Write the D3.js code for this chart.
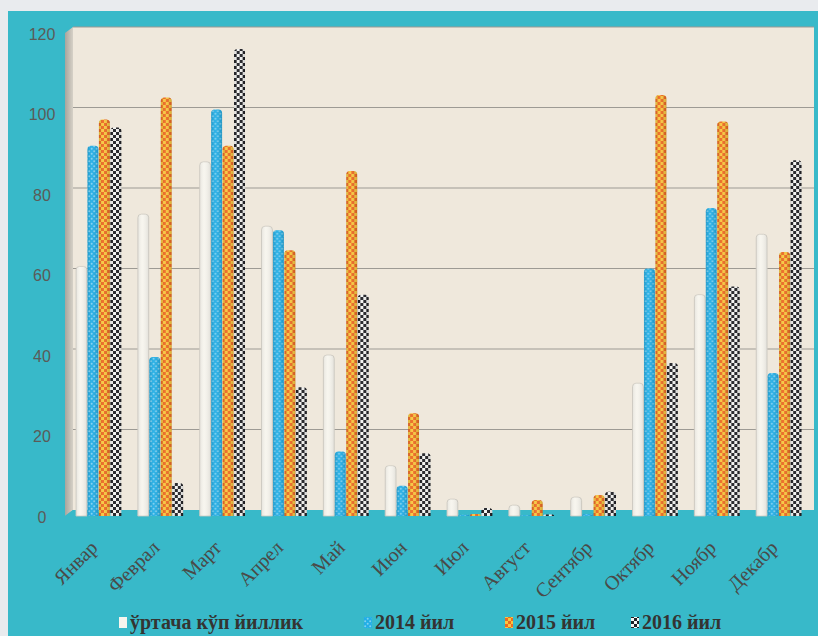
<!DOCTYPE html>
<html>
<head>
<meta charset="utf-8">
<script src="https://cdn.jsdelivr.net/npm/d3@7"></script>
<style>
  html, body { margin: 0; padding: 0; background: #eceef0; }
  svg { display: block; }
</style>
</head>
<body>
<svg id="chart" width="818" height="636"></svg>
<script>
// Monthly values, four series
const months = ["Январ", "Феврал", "Март", "Апрел", "Май", "Июн", "Июл", "Август", "Сентябр", "Октябр", "Ноябр", "Декабр"];
const seriesNames = ["ўртача кўп йиллик", "2014 йил", "2015 йил", "2016 йил"];
const avgMultiYear = [62, 75, 88, 72, 40, 12.5, 4.2, 2.7, 4.7, 33, 55, 70];
const y2014 = [92, 39.5, 101, 71, 16, 7.5, 0.3, 0.2, 0.5, 61.5, 76.5, 35.5];
const y2015 = [98.5, 104, 92, 66, 85.7, 25.5, 0.5, 4, 5.2, 104.6, 98, 65.6];
const y2016 = [96.5, 8.2, 116, 32, 55, 15.6, 2, 0.4, 6, 38, 57, 88.4];
const yTicks = [0, 20, 40, 60, 80, 100, 120];

const series = [avgMultiYear, y2014, y2015, y2016];

const svg = d3.select("#chart");
const W = 818, H = 636;

// ---- patterns for the bar fills ----
const defs = svg.append("defs");

const pWhite = defs.append("pattern").attr("id", "pat0").attr("patternUnits", "userSpaceOnUse")
  .attr("width", 4).attr("height", 4);
pWhite.append("rect").attr("width", 4).attr("height", 4).attr("fill", "#f7f5ee");

const pBlue = defs.append("pattern").attr("id", "pat1").attr("patternUnits", "userSpaceOnUse")
  .attr("width", 5).attr("height", 5);
pBlue.append("rect").attr("width", 5).attr("height", 5).attr("fill", "#22aee6");
pBlue.append("circle").attr("cx", 1.2).attr("cy", 1.2).attr("r", 1).attr("fill", "#7fd0f0");
pBlue.append("circle").attr("cx", 3.7).attr("cy", 3.7).attr("r", 1).attr("fill", "#7fd0f0");

const pOrange = defs.append("pattern").attr("id", "pat2").attr("patternUnits", "userSpaceOnUse")
  .attr("width", 6).attr("height", 6);
pOrange.append("rect").attr("width", 6).attr("height", 6).attr("fill", "#ee6a22");
pOrange.append("rect").attr("x", 0).attr("y", 0).attr("width", 3).attr("height", 3).attr("fill", "#f9c83e");
pOrange.append("rect").attr("x", 3).attr("y", 3).attr("width", 3).attr("height", 3).attr("fill", "#f9c83e");

const pBlack = defs.append("pattern").attr("id", "pat3").attr("patternUnits", "userSpaceOnUse")
  .attr("width", 6).attr("height", 6);
pBlack.append("rect").attr("width", 6).attr("height", 6).attr("fill", "#f6f6f4");
pBlack.append("rect").attr("x", 0).attr("y", 0).attr("width", 3).attr("height", 3).attr("fill", "#1f1f24");
pBlack.append("rect").attr("x", 3).attr("y", 3).attr("width", 3).attr("height", 3).attr("fill", "#1f1f24");

// cylinder shading across each bar
const shade = defs.append("linearGradient").attr("id", "cyl").attr("x1", "0").attr("x2", "1").attr("y1", "0").attr("y2", "0");
shade.append("stop").attr("offset", "0").attr("stop-color", "#000").attr("stop-opacity", 0.18);
shade.append("stop").attr("offset", "0.4").attr("stop-color", "#fff").attr("stop-opacity", 0.08);
shade.append("stop").attr("offset", "1").attr("stop-color", "#000").attr("stop-opacity", 0.22);

const wallGrad = defs.append("linearGradient").attr("id", "wall").attr("x1", "0").attr("x2", "1");
wallGrad.append("stop").attr("offset", "0").attr("stop-color", "#a9a59d");
wallGrad.append("stop").attr("offset", "1").attr("stop-color", "#d6d1c7");

// ---- page background and teal frame ----
svg.append("rect").attr("width", W).attr("height", H).attr("fill", "#e9ebee");
svg.append("rect").attr("x", 8).attr("y", 11).attr("width", W - 8).attr("height", H - 11).attr("fill", "#38b9c9");

// ---- scales ----
const x0 = d3.scaleBand().domain(months).range([68, 810]).padding(0);
const x1 = d3.scaleBand().domain(d3.range(4)).range([8, x0.bandwidth() - 8]).padding(0);
const y = d3.scaleLinear().domain([0, 120]).range([516, 33]);

// back wall offset of the 3D plot box
const depthX = 8, depthY = 6;

// back wall
svg.append("rect")
  .attr("x", 65 + depthX).attr("y", y(120) - depthY)
  .attr("width", 814 - (65 + depthX)).attr("height", y(0) - depthY - (y(120) - depthY))
  .attr("fill", "#efe8dc");

// left side wall
svg.append("path")
  .attr("d", `M65,${y(120)} L${65 + depthX},${y(120) - depthY} L${65 + depthX},${y(0) - depthY} L65,${y(0)} Z`)
  .attr("fill", "url(#wall)");

// gridlines on the back wall
svg.append("g").selectAll("line").data(yTicks.filter(d => d > 0)).join("line")
  .attr("x1", 65 + depthX).attr("x2", 814)
  .attr("y1", d => y(d) - depthY).attr("y2", d => y(d) - depthY)
  .attr("stroke", "#9d9a94").attr("stroke-width", 1.2);

// floor (teal)
svg.append("path")
  .attr("d", `M65,${y(0)} L${65 + depthX},${y(0) - depthY} L814,${y(0) - depthY} L814,${y(0)} Z`)
  .attr("fill", "#38b9c9");

// ---- y axis labels ----
const yAxis = d3.axisLeft(y).tickValues(yTicks).tickSize(0).tickPadding(0);
const gy = svg.append("g").attr("transform", "translate(42,0)").call(yAxis);
gy.select(".domain").remove();
gy.selectAll("text")
  .attr("text-anchor", "middle")
  .attr("x", 0)
  .attr("dy", "0.4em")
  .attr("fill", "#5b5b58")
  .style("font-family", "'Liberation Sans', Arial, sans-serif")
  .style("font-size", "16px");

// ---- bars (rounded cylinder caps) ----
function barPath(x, w, top, bottom) {
  const r = Math.min(w / 2, Math.max(0, (bottom - top)), 3.5);
  return `M${x},${bottom} L${x},${top + r} Q${x},${top} ${x + r},${top} L${x + w - r},${top} Q${x + w},${top} ${x + w},${top + r} L${x + w},${bottom} Z`;
}

const rows = months.map((m, i) => ({ month: m, vals: series.map(s => s[i]) }));
const groups = svg.append("g").selectAll("g").data(rows).join("g")
  .attr("transform", d => `translate(${x0(d.month)},0)`);

groups.selectAll("path.bar").data(d => d.vals.map((v, k) => ({ v, k }))).join("path")
  .attr("class", "bar")
  .attr("d", d => barPath(x1(d.k), x1.bandwidth() - 0.5, y(d.v), y(0)))
  .attr("fill", d => `url(#pat${d.k})`)
  .attr("stroke", d => d.k === 0 ? "#cfccc3" : "none")
  .attr("stroke-width", 0.8);

groups.selectAll("path.shade").data(d => d.vals.map((v, k) => ({ v, k }))).join("path")
  .attr("class", "shade")
  .attr("d", d => barPath(x1(d.k), x1.bandwidth() - 0.5, y(d.v), y(0)))
  .attr("fill", "url(#cyl)")
  .attr("opacity", d => d.k === 0 ? 0.4 : 0.7);

// ---- x axis labels (rotated) ----
const xAxis = d3.axisBottom(x0).tickSize(0).tickPadding(0);
const gx = svg.append("g").attr("transform", `translate(-5,${y(0) + 28})`).call(xAxis);
gx.select(".domain").remove();
gx.selectAll("text")
  .attr("text-anchor", "end")
  .attr("dy", "0.35em")
  .attr("transform", "rotate(-45)")
  .attr("fill", "#4a4a48")
  .style("font-family", "'Liberation Serif', 'Times New Roman', serif")
  .style("font-size", "20px");

// ---- legend ----
const legendX = [119, 364, 505, 631];
const legend = svg.append("g").selectAll("g").data(seriesNames).join("g")
  .attr("transform", (d, i) => `translate(${legendX[i]},615)`);
legend.append("rect")
  .attr("width", 8).attr("height", 11).attr("y", 2)
  .attr("fill", (d, i) => `url(#pat${i})`);
legend.append("text")
  .attr("x", 11).attr("y", 14)
  .attr("fill", "#343432")
  .style("font-family", "'Liberation Serif', 'Times New Roman', serif")
  .style("font-weight", "bold")
  .style("font-size", "20px")
  .text(d => d);
</script>
</body>
</html>
